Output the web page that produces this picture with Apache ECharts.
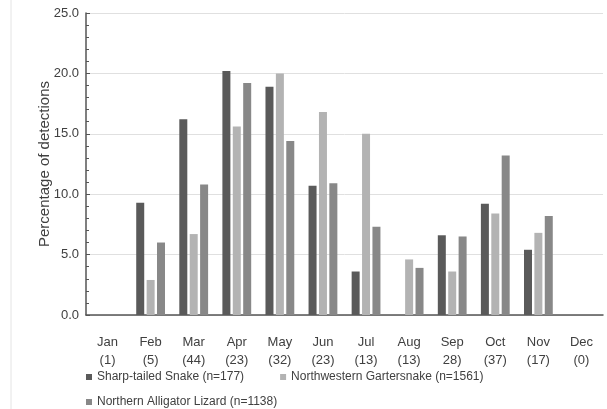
<!DOCTYPE html>
<html style="height: 100%">
<head>
    <meta charset="utf-8">
    <script src="https://cdn.jsdelivr.net/npm/echarts@6/dist/echarts.min.js"></script>
    <title>Detections by month</title>
</head>
<body style="height: 100%; margin: 0; background: #fff">
<div id="container" style="width: 607px; height: 409px"></div>
<script type="text/javascript">

    let months = ["Jan\n(1)", "Feb\n(5)", "Mar\n(44)", "Apr\n(23)", "May\n(32)", "Jun\n(23)",
                  "Jul\n(13)", "Aug\n(13)", "Sep\n28)", "Oct\n(37)", "Nov\n(17)", "Dec\n(0)"]

    let sharpTailed   = [0, 9.3, 16.2, 20.2, 18.9, 10.7, 3.6, 0, 6.6, 9.2, 5.4, 0]
    let gartersnake   = [0, 2.9, 6.7, 15.6, 20.0, 16.8, 15.0, 4.6, 3.6, 8.4, 6.8, 0]
    let alligator     = [0, 6.0, 10.8, 19.2, 14.4, 10.9, 7.3, 3.9, 6.5, 13.2, 8.2, 0]

    let names = ["Sharp-tailed Snake (n=177)", "Northwestern Gartersnake (n=1561)", "Northern Alligator Lizard (n=1138)"]
    let colors = ["#5a5a5a", "#b3b3b3", "#888888"]
    let values = [sharpTailed, gartersnake, alligator]

    let font = "Liberation Sans, Arial, sans-serif"
    let textColor = "#404040"

    let series = []
    for (let i in values) {
        series.push({
            name: names[i],
            type: "bar",
            data: values[i],
            barWidth: 8,
            barGap: "30%",
            itemStyle: {color: colors[i]}
        })
    }

    let legendStyle = {
        icon: "rect",
        itemWidth: 6,
        itemHeight: 6,
        itemGap: 36,
        left: 81,
        textStyle: {fontFamily: font, fontSize: 12, color: textColor}
    }

    let chart = echarts.init(document.getElementById("container"))
    chart.setOption({
        animation: false,
        color: colors,
        grid: {left: 86, right: 4, top: 13, bottom: 94},
        legend: [
            Object.assign({data: [names[0], names[1]], top: 366}, legendStyle),
            Object.assign({data: [names[2]], top: 391}, legendStyle)
        ],
        graphic: [{
            type: "line",
            shape: {x1: 11, y1: 0, x2: 11, y2: 409},
            style: {stroke: "#e4e4e4", lineWidth: 1}
        }],
        xAxis: {
            type: "category",
            data: months,
            axisLine: {lineStyle: {color: "#555", width: 1.5}},
            axisTick: {show: false},
            axisLabel: {
                fontFamily: font, fontSize: 13, color: textColor,
                margin: 18, lineHeight: 18, interval: 0
            }
        },
        yAxis: {
            type: "value",
            min: 0,
            max: 25,
            interval: 5,
            name: "Percentage of detections",
            nameLocation: "middle",
            nameGap: 34,
            nameMoveOverlap: false,
            nameTextStyle: {fontFamily: font, fontSize: 15, color: textColor},
            axisLine: {show: true, lineStyle: {color: "#555", width: 1.5}},
            axisTick: {show: true, inside: true, length: 4, lineStyle: {color: "#555"}},
            minorTick: {show: true, splitNumber: 5, length: 3, lineStyle: {color: "#555"}},
            axisLabel: {
                fontFamily: font, fontSize: 13, color: textColor, margin: 7,
                formatter: v => v.toFixed(1)
            },
            splitLine: {lineStyle: {color: "#e0e0e0"}}
        },
        series: series
    })

</script>
</body>
</html>
